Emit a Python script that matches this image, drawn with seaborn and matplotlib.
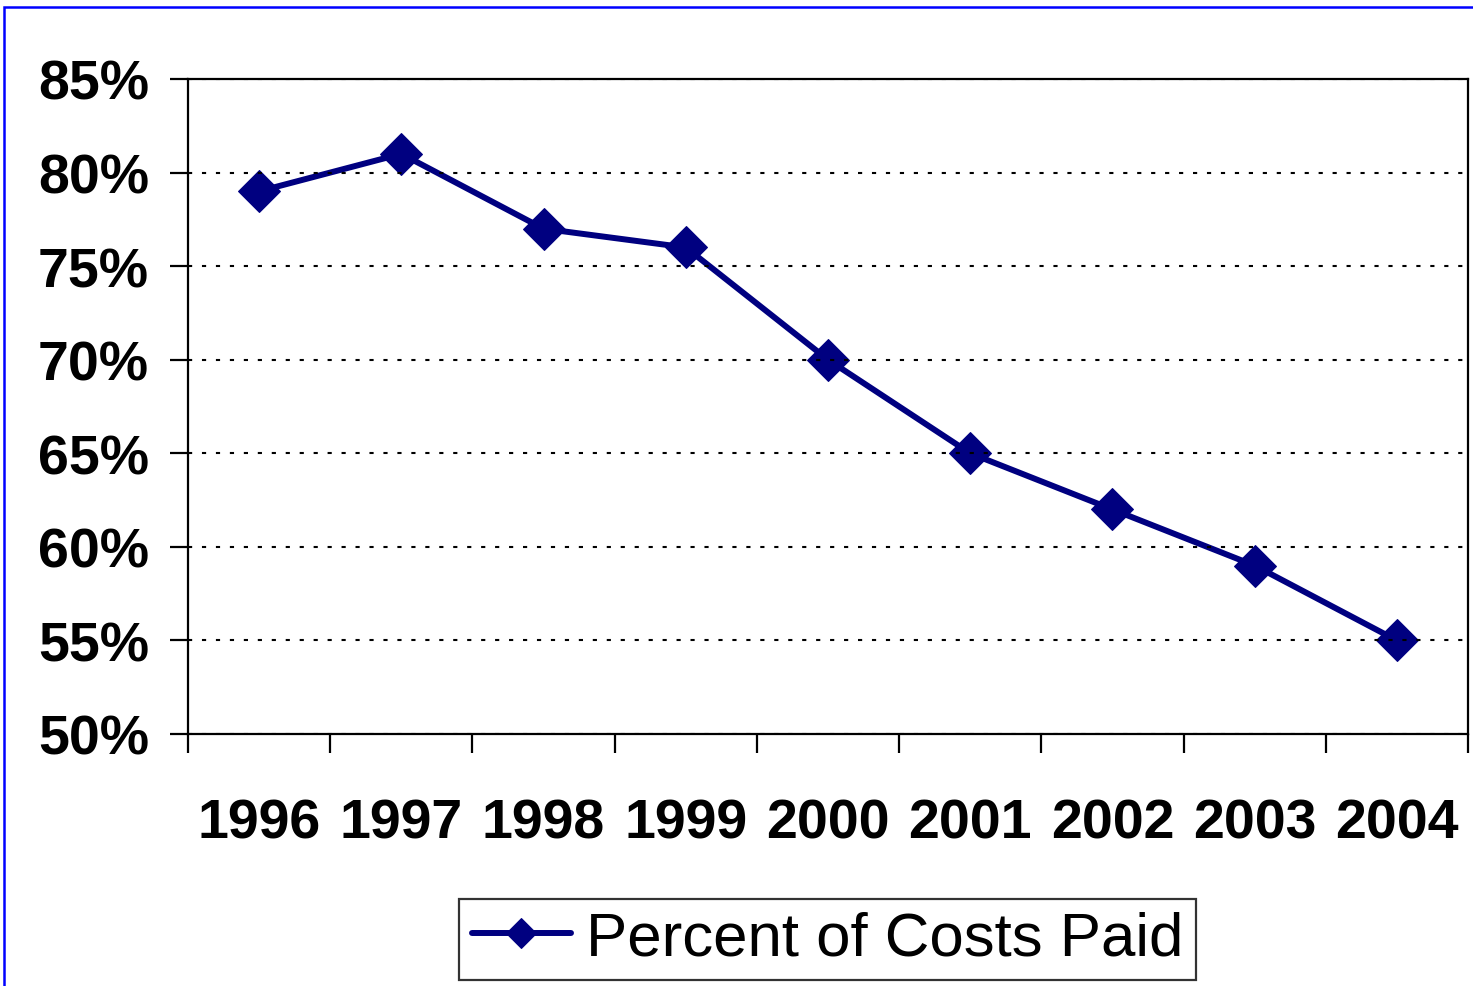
import matplotlib
matplotlib.use("Agg")
import matplotlib.pyplot as plt
import seaborn as sns
import pandas as pd
from matplotlib.patches import Rectangle
from matplotlib.ticker import FixedLocator, PercentFormatter

years = ["1996", "1997", "1998", "1999", "2000", "2001", "2002", "2003", "2004"]
percent_paid = [79, 81, 77, 76, 70, 65, 62, 59, 55]
y_ticks = [50, 55, 60, 65, 70, 75, 80, 85]
series_name = "Percent of Costs Paid"

sns.set_style("white")
plt.rcParams["font.family"] = ["Liberation Sans", "DejaVu Sans"]
plt.rcParams["text.color"] = "black"
plt.rcParams["xtick.color"] = "black"
plt.rcParams["ytick.color"] = "black"
plt.rcParams["axes.labelcolor"] = "black"

df = pd.DataFrame({"year": years, "pct": percent_paid})

fig = plt.figure(figsize=(14.73, 9.87), dpi=100)
ax = fig.add_axes([188/1473, 1-735/987, (1468-188)/1473, (735-80)/987])

sns.lineplot(data=df, x="year", y="pct", ax=ax, sort=False, color="#000080",
             linewidth=4.3, marker="D", markersize=21, markeredgecolor="#000080",
             label=series_name)

ax.set_xlim(-0.5, len(years) - 0.5)
ax.set_ylim(50, 85)
ax.yaxis.set_major_locator(FixedLocator(y_ticks))
ax.yaxis.set_major_formatter(PercentFormatter(decimals=0))
ax.grid(axis="y", color="black", linestyle=(0, (2, 4.7)), linewidth=1.5)
ax.set_axisbelow(False)
for s in ax.spines.values():
    s.set_visible(True)
    s.set_color("black")
    s.set_linewidth(1.6)

ax.set_xlabel("")
ax.set_ylabel("")
ax.set_xticks(range(len(years)))
ax.set_xticklabels(years)
ax.set_xticks([i - 0.5 for i in range(len(years) + 1)], minor=True)
ax.tick_params(axis="x", which="major", length=0, pad=46, labelsize=40, labelcolor="black")
ax.tick_params(axis="x", which="minor", direction="out", length=14, width=1.6, color="black", bottom=True)
ax.tick_params(axis="y", which="major", direction="out", length=13, width=1.6, color="black", left=True, pad=15, labelsize=40, labelcolor="black")
for lab in ax.get_xticklabels() + ax.get_yticklabels():
    lab.set_fontweight("bold")
    lab.set_color("black")

leg = ax.legend(loc="center", bbox_to_anchor=(827.5/1473, 1-940.5/987), bbox_transform=fig.transFigure,
                frameon=True, fancybox=False, edgecolor="black", handlelength=1.6,
                handletextpad=0.25, borderpad=0.2, markerscale=0.75,
                prop={"family": ["Liberation Sans"], "size": 44.5})
leg.get_frame().set_linewidth(1.6)
for t in leg.get_texts():
    t.set_color("black")

fig.patches.append(Rectangle((4/1473, -0.1), 1.2, 1.1 - 8/987, transform=fig.transFigure,
                             fill=False, edgecolor="#0000FF", linewidth=1.8))

fig.savefig("out.png", dpi=100)
